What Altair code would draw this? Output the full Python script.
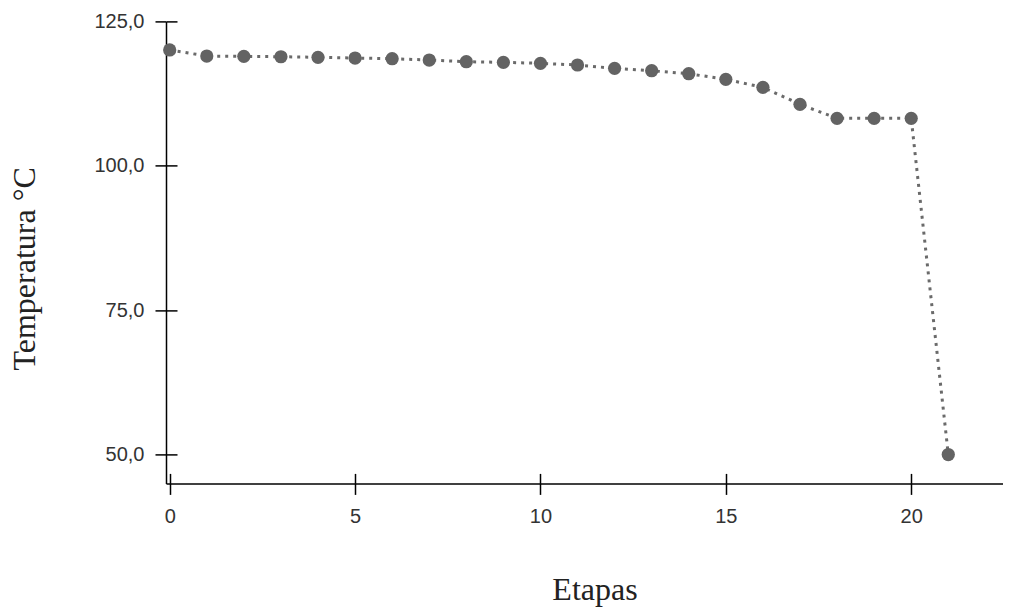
import altair as alt
import pandas as pd

etapas = list(range(22))
temperatura = [120.05, 119.0, 118.95, 118.88, 118.78, 118.66, 118.54, 118.31,
               118.02, 117.91, 117.74, 117.45, 116.87, 116.46, 115.94, 114.97,
               113.58, 110.64, 108.21, 108.21, 108.21, 50.0]
x_ticks = [0, 5, 10, 15, 20]
y_ticks = [50, 75, 100, 125]

df = pd.DataFrame({"Etapas": etapas, "Temperatura": temperatura})

xscale = alt.Scale(domain=[-0.1, 22.476], nice=False, zero=False)
yscale = alt.Scale(domain=[45, 125], nice=False, zero=False)

main_x = alt.Axis(values=x_ticks, grid=False, domainColor="black", domainWidth=1.5,
                  tickColor="black", tickWidth=1.5, tickSize=11, labelPadding=12,
                  labelFont="Liberation Sans", labelFontSize=20, labelColor="#333",
                  title="Etapas", titleFont="Liberation Serif", titleFontSize=32,
                  titleFontWeight="normal", titleColor="#222", titleBaseline="alphabetic",
                  titleX=428.5, titleY=116, titleAlign="center", orient="bottom")
main_y = alt.Axis(values=y_ticks, grid=False, domainColor="black", domainWidth=1.5,
                  tickColor="black", tickWidth=1.5, tickSize=11, labelPadding=11,
                  labelFont="Liberation Sans", labelFontSize=20, labelColor="#333",
                  labelExpr="replace(format(datum.value, '.1f'), '.', ',')",
                  title="Temperatura °C", titleFont="Liberation Serif", titleFontSize=32,
                  titleFontWeight="normal", titleColor="#222", titleBaseline="alphabetic",
                  titleAngle=270, titleX=-132, titleY=247, titleAlign="center", orient="left")

inner_x = alt.Axis(values=x_ticks, grid=False, domain=False, labels=False, title=None,
                   tickColor="black", tickWidth=1.5, tickSize=10, offset=-10, orient="bottom")
inner_y = alt.Axis(values=y_ticks, grid=False, domain=False, labels=False, title=None,
                   tickColor="black", tickWidth=1.5, tickSize=11, offset=-11, orient="left")

base = alt.Chart(df)

line = base.mark_line(color="#6a6a6a", strokeWidth=3, strokeDash=[3, 5]).encode(
    x=alt.X("Etapas:Q", scale=xscale, axis=main_x),
    y=alt.Y("Temperatura:Q", scale=yscale, axis=main_y),
)
points = base.mark_circle(color="#636363", opacity=1, size=175).encode(
    x=alt.X("Etapas:Q", scale=xscale, axis=main_x),
    y=alt.Y("Temperatura:Q", scale=yscale, axis=main_y),
)
main = alt.layer(line, points)

ticks_layer = base.mark_point(opacity=0).encode(
    x=alt.X("Etapas:Q", scale=xscale, axis=inner_x),
    y=alt.Y("Temperatura:Q", scale=yscale, axis=inner_y),
)

chart = alt.layer(main, ticks_layer).resolve_axis(
    x="independent", y="independent"
).properties(
    width=837, height=462,
    padding={"left": 158, "top": 13.4, "right": 0, "bottom": 123.6},
    autosize="none",
).configure_view(stroke=None)

chart.save("out.html", embed_options={"renderer": "svg", "actions": False})
